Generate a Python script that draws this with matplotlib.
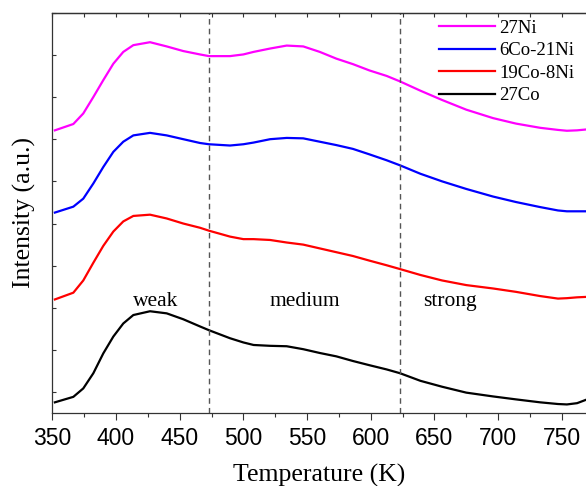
import matplotlib.pyplot as plt
from matplotlib.ticker import MultipleLocator

# TPD-like curves, offset stacked (arbitrary units)
temp = [352, 366.5, 374.3, 382.2, 390, 397.9, 405.7, 413.6, 426.7, 439.8, 452.8, 465.9, 473,
        489.5, 500, 508, 521, 534, 547, 560, 573, 586, 599, 612.5, 623, 639, 656, 675, 696,
        714, 733, 747, 754, 762, 769]

co27 = [0.26, 0.39, 0.59, 0.95, 1.42, 1.82, 2.13, 2.33, 2.42, 2.37, 2.23, 2.06, 1.97,
        1.78, 1.68, 1.62, 1.60, 1.59, 1.52, 1.43, 1.35, 1.24, 1.14, 1.04, 0.95, 0.77, 0.63, 0.49, 0.40,
        0.33, 0.26, 0.22, 0.21, 0.24, 0.32]

co19ni8 = [2.70, 2.86, 3.15, 3.57, 3.97, 4.31, 4.55, 4.68, 4.71, 4.62, 4.50, 4.40, 4.33,
           4.19, 4.13, 4.13, 4.11, 4.05, 4.00, 3.91, 3.82, 3.73, 3.62, 3.51, 3.42, 3.28, 3.15, 3.04, 2.96,
           2.88, 2.78, 2.72, 2.73, 2.75, 2.76]

co6ni21 = [4.76, 4.90, 5.09, 5.45, 5.84, 6.20, 6.44, 6.59, 6.65, 6.59, 6.50, 6.41, 6.38,
           6.35, 6.38, 6.42, 6.50, 6.53, 6.52, 6.44, 6.36, 6.27, 6.14, 6.00, 5.88, 5.68, 5.50, 5.32, 5.14,
           5.01, 4.89, 4.81, 4.79, 4.79, 4.79]

ni27 = [6.71, 6.86, 7.11, 7.50, 7.90, 8.29, 8.57, 8.73, 8.80, 8.70, 8.59, 8.51, 8.47,
        8.47, 8.51, 8.57, 8.65, 8.72, 8.70, 8.57, 8.41, 8.28, 8.13, 8.00, 7.87, 7.65, 7.43, 7.20, 7.00,
        6.87, 6.77, 6.72, 6.70, 6.71, 6.73]

region_edges = [473, 623]
region_names = ['weak', 'medium', 'strong']
region_x = [431.5, 548.6, 662.5]
region_y = 2.64

serif = 'Liberation Serif'
sans = 'Liberation Sans'


def plot():
    fig = plt.figure(figsize=(5.86, 4.86), dpi=100)
    ax = fig.add_axes([0.0893, 0.1496, 0.9107, 0.8243])

    ax.plot(temp, ni27, color='#ff00ff', lw=1.6, label='27Ni')
    ax.plot(temp, co6ni21, color='#0000ff', lw=1.6, label='6Co-21Ni')
    ax.plot(temp, co19ni8, color='#ff0000', lw=1.6, label='19Co-8Ni')
    ax.plot(temp, co27, color='black', lw=1.6, label='27Co')

    for xv in region_edges:
        ax.axvline(xv, color='#555555', lw=1.0, ls=(0, (4, 3)))
    for name, xv in zip(region_names, region_x):
        ax.text(xv, region_y, name, ha='center', va='center', fontsize=15.5, family=serif)

    ax.set_xlim(350, 769)
    ax.set_ylim(0, 9.5)
    ax.xaxis.set_major_locator(MultipleLocator(50))
    ax.xaxis.set_minor_locator(MultipleLocator(25))
    ax.set_yticks([0.5 + i for i in range(10)])
    ax.set_yticklabels([])

    ax.tick_params(axis='x', which='both', direction='out', labelsize=16.5, length=5,
                   width=0.8, colors='#333333', labelcolor='black', pad=5)
    ax.tick_params(axis='x', which='minor', length=3)
    ax.tick_params(axis='y', which='both', direction='in', length=3, width=0.8, colors='#333333')
    for lab in ax.get_xticklabels():
        lab.set_family(sans)

    top = ax.secondary_xaxis('top')
    top.xaxis.set_major_locator(MultipleLocator(25))
    top.tick_params(direction='in', length=3, width=0.8, colors='#333333', labeltop=False)
    top.spines['top'].set_color('#333333')
    top.spines['top'].set_linewidth(0.9)

    for s in ax.spines.values():
        s.set_color('#333333')
        s.set_linewidth(0.9)
    ax.spines['right'].set_visible(False)

    ax.set_xlabel('Temperature (K)', fontsize=18.5, family=serif, labelpad=10)
    ax.set_ylabel('Intensity (a.u.)', fontsize=18.5, family=serif, labelpad=8)

    ax.legend(loc='upper right', bbox_to_anchor=(1.0, 1.01), frameon=False,
              prop={'family': serif, 'size': 13.5}, handlelength=3.0,
              handletextpad=0.25, labelspacing=0.28, borderaxespad=0.2)

    fig.savefig('out.png', dpi=100)


if __name__ == '__main__':
    plot()
